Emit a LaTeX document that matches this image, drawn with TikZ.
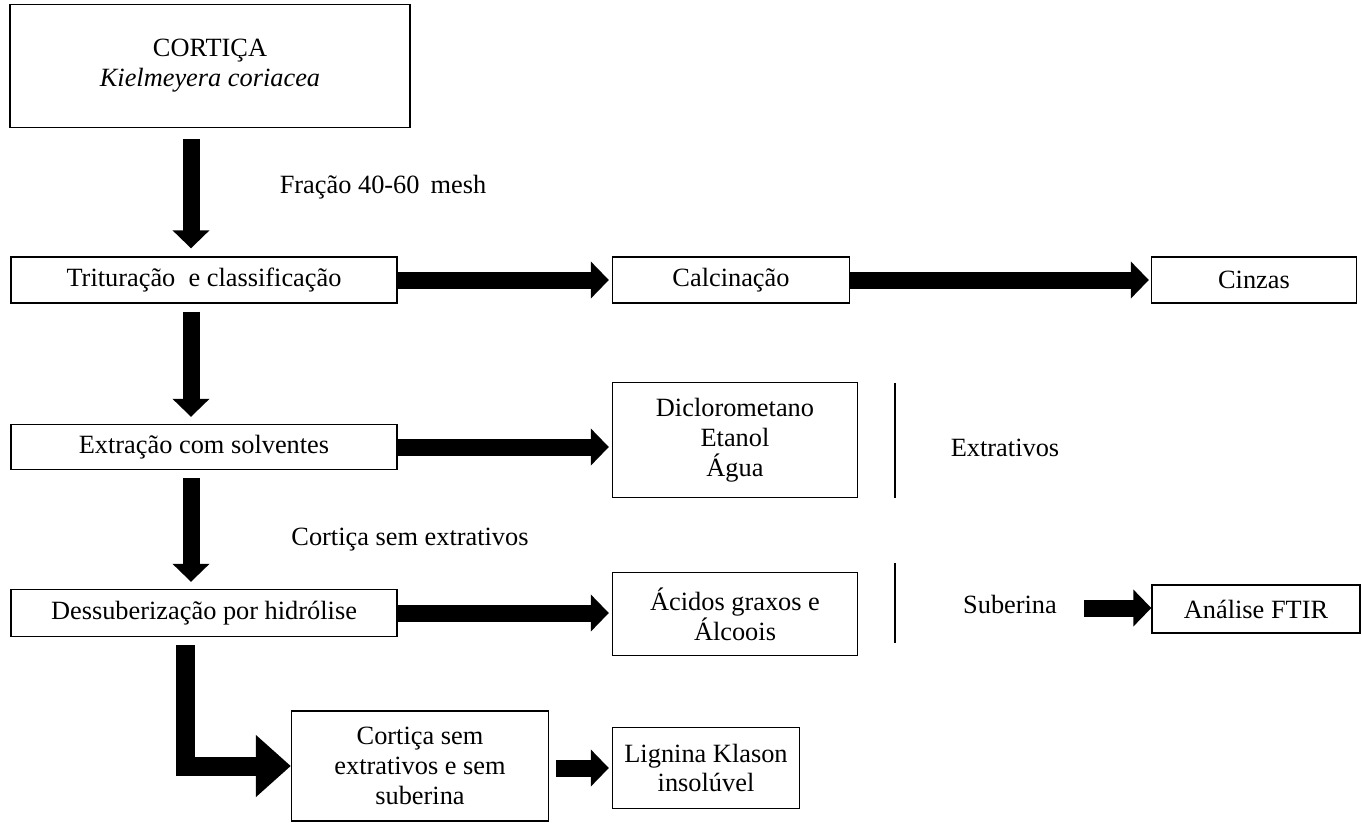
\documentclass[tikz,border=0pt]{standalone}
\usepackage{fontspec}
\setmainfont{Liberation Serif}
\usetikzlibrary{positioning,arrows.meta,calc}

\tikzset{
  box/.style={rectangle,draw=black,line width=0.8pt,align=center,
              inner sep=2pt,font=\fontsize{15}{17}\selectfont},
  lbl/.style={font=\fontsize{15}{17}\selectfont},
  fat/.style={line width=0.34cm,-{Triangle[width=0.72cm,length=0.36cm]}},
  bigfat/.style={line width=0.38cm,line join=miter,
                 -{Triangle[width=1.2cm,length=0.7cm]}}
}

\begin{document}
\begin{tikzpicture}[x=0.02cm,y=-0.02cm]
\useasboundingbox (0,0) rectangle (1362,822);

% left column
\node[box,minimum width=8cm,minimum height=2.46cm] (cort) at (210,66)
  {CORTIÇA\\\textit{Kielmeyera coriacea}};
\node[box,minimum width=7.72cm,minimum height=0.92cm] (trit) at (204,280)
  {Trituração \ e classificação};
\node[box,minimum width=7.72cm,minimum height=0.9cm] (extr) at (204,447)
  {Extração com solventes};
\node[box,minimum width=7.72cm,minimum height=0.94cm] (dess) at (204,613)
  {Dessuberização por hidrólise};
\node[box,minimum width=5.14cm,minimum height=2.2cm] (cse) at (420,766)
  {Cortiça sem\\extrativos e sem\\suberina};

% right side
\node[box,minimum width=4.74cm,minimum height=0.92cm] (calc) at (731,280) {Calcinação};
\node[box,minimum width=4.1cm,minimum height=0.92cm] (cinz) at (1254,280) {Cinzas};
\node[box,minimum width=4.9cm,minimum height=2.3cm] (dicl) at (735,440)
  {Diclorometano\\Etanol\\Água};
\node[box,minimum width=4.9cm,minimum height=1.66cm] (acid) at (735,614)
  {Ácidos graxos e\\Álcoois};
\node[box,minimum width=4.16cm,minimum height=0.96cm] (ftir) at (1256,609) {Análise FTIR};
\node[box,minimum width=3.74cm,minimum height=1.62cm] (lign) at (706,768)
  {Lignina Klason\\insolúvel};

% labels
\node[lbl] (frac) at (383,187) {Fração 40-60 \,mesh};
\node[lbl] (csext) at (410,540) {Cortiça sem extrativos};
\node[lbl] (extv) at (1005,448) {Extrativos};
\node[lbl] (sub) at (1010,604) {Suberina};

\draw[line width=0.8pt] (895,383) -- (895,498);
\draw[line width=0.8pt] (895,563) -- (895,643);

% vertical arrows
\coordinate (ax) at (191,0);
\draw[fat,shorten <=0.22cm,shorten >=0.16cm] (cort.south -| ax) -- (trit.north -| ax);
\draw[fat,shorten <=0.16cm,shorten >=0.14cm] (trit.south -| ax) -- (extr.north -| ax);
\draw[fat,shorten <=0.16cm,shorten >=0.14cm] (extr.south -| ax) -- (dess.north -| ax);
\coordinate (lx) at (185,0);
\draw[bigfat,shorten <=0.16cm] (dess.south -| lx) |- (cse.west);

% horizontal arrows
\draw[fat,shorten >=0.06cm] (trit.east) -- (calc.west);
\draw[fat,shorten >=0.04cm] (calc.east) -- (cinz.west);
\draw[fat,shorten >=0.06cm] (extr.east) -- (extr.east -| dicl.west);
\draw[fat,shorten >=0.06cm] (dess.east) -- (dess.east -| acid.west);
\coordinate (s0) at (1084,608);
\draw[fat] (s0) -- (s0 -| ftir.west);
\draw[fat,shorten <=0.14cm,shorten >=0.06cm] (cse.east |- lign.west) -- (lign.west);
\end{tikzpicture}
\end{document}
